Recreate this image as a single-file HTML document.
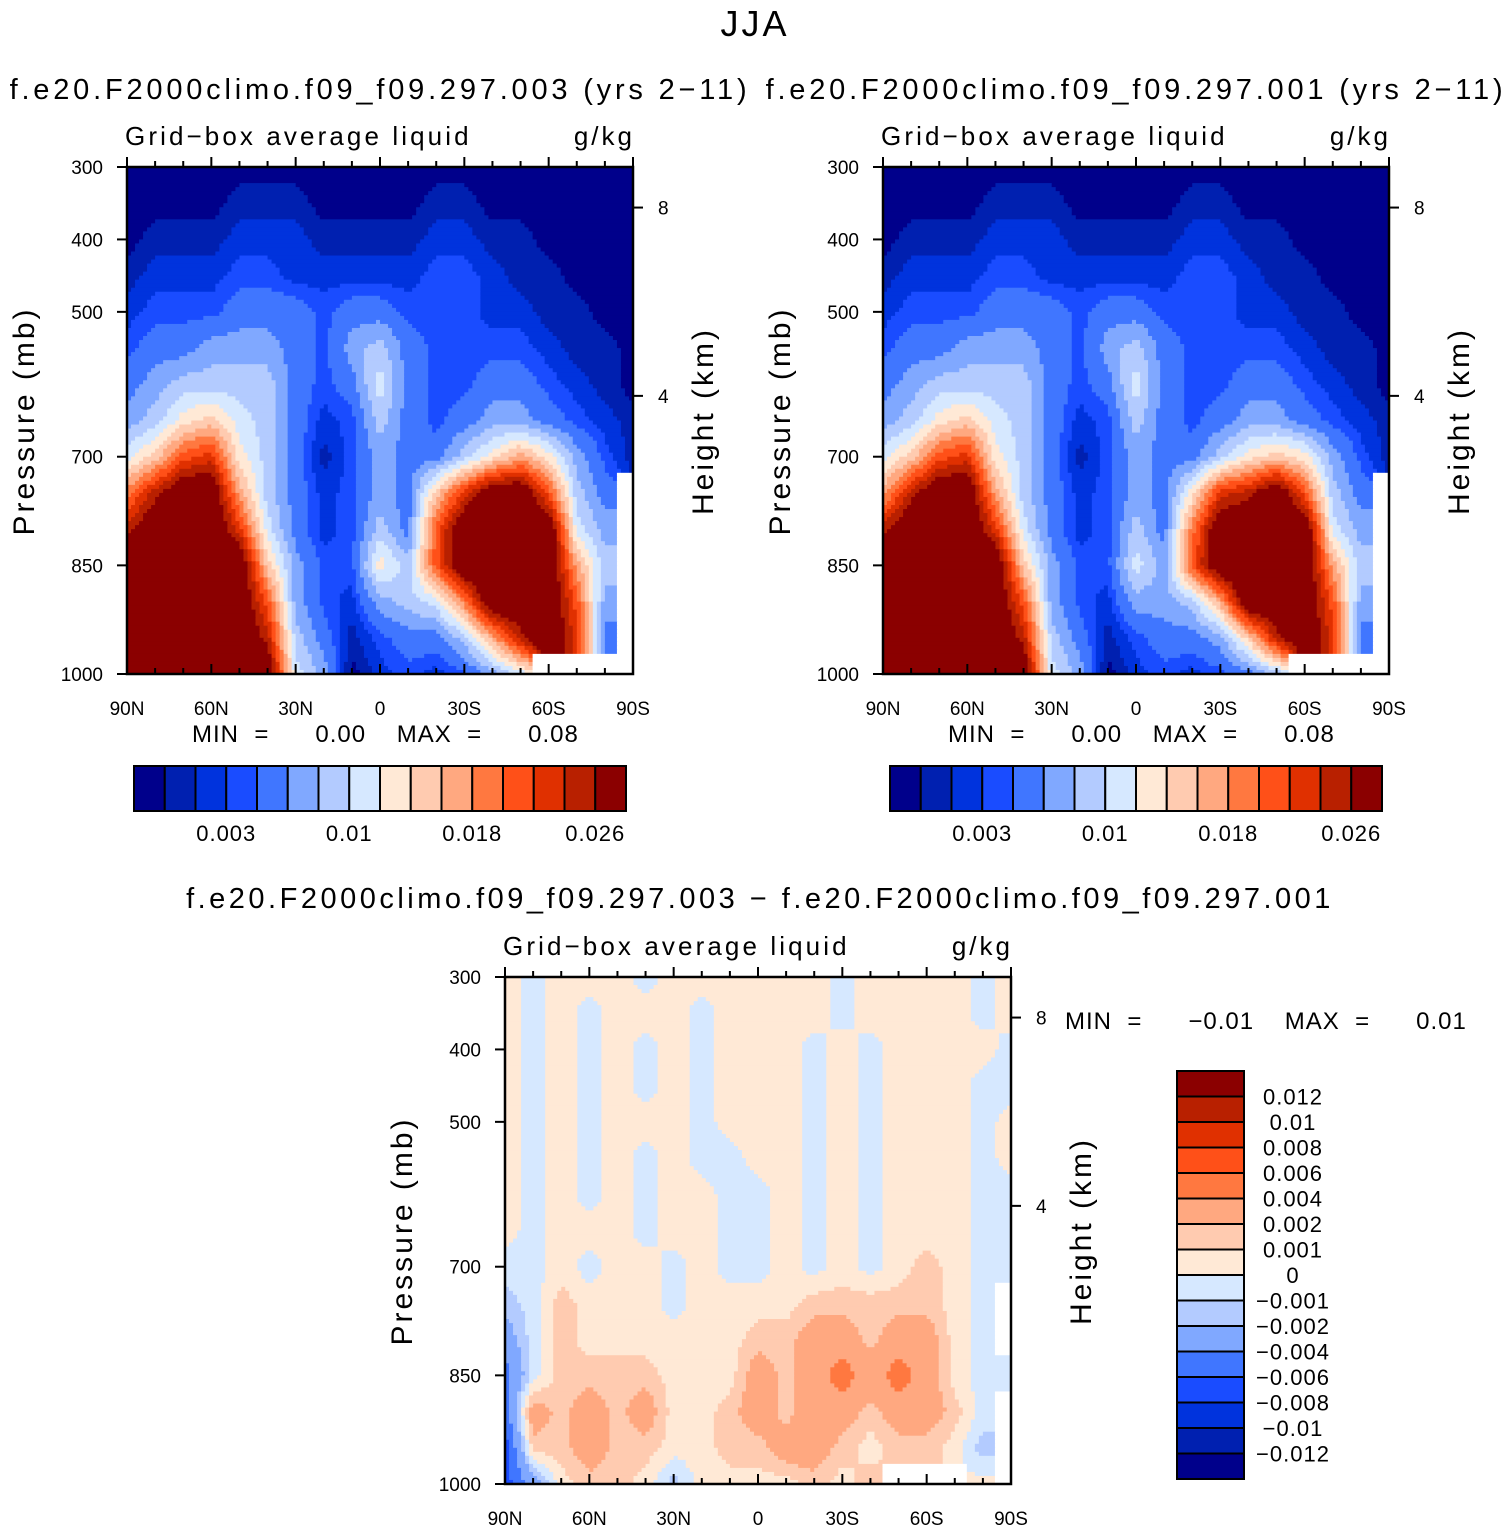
<!DOCTYPE html>
<html><head><meta charset="utf-8"><style>
html,body{margin:0;padding:0;background:#fff}
svg{display:block}
text{font-family:"Liberation Sans","DejaVu Sans",sans-serif;fill:#000}
</style></head><body>
<svg id="fig" width="1510" height="1531" viewBox="0 0 1510 1531" xmlns="http://www.w3.org/2000/svg">
<text x="755" y="36" font-size="36" text-anchor="middle" letter-spacing="3">JJA</text>
<text x="380" y="99" font-size="29" text-anchor="middle" letter-spacing="3.8">f.e20.F2000climo.f09_f09.297.003 (yrs 2−11)</text>
<text x="1136" y="99" font-size="29" text-anchor="middle" letter-spacing="3.8">f.e20.F2000climo.f09_f09.297.001 (yrs 2−11)</text>
<text x="760" y="908" font-size="29" text-anchor="middle" letter-spacing="3.5">f.e20.F2000climo.f09_f09.297.003 − f.e20.F2000climo.f09_f09.297.001</text>
<g id="panels"></g>
</svg>
<script>
// shared axis data
const lats = [90,80,70,60,50,40,30,20,10,0,-10,-20,-30,-40,-50,-60,-70,-80,-90];
const pressures = [300,350,400,450,500,550,600,650,700,750,800,850,900,950,1000];
const xTickLabels = ["90N","60N","30N","0","30S","60S","90S"];
const xTickLats = [90,60,30,0,-30,-60,-90];
const yTickValues = [300,400,500,700,850,1000];
const heightTicks = [8,4];
const heightTickPressures = [356,616];
const colors = ["#00008b","#0020b0","#0033dd","#1a4cff","#4076ff","#80a8ff","#b3cbff","#d6e8ff","#ffe9d6","#ffcbb0","#ffa880","#ff7840","#ff5018","#e03000","#b82000","#8b0000"];
// values in units of 1e-3 g/kg
const absLevels = [1,2,3,4,6,8,10,12,14,16,18,20,22,24,26];
const absLabelIdx = [2,6,10,14];
const absLabels = ["0.003","0.01","0.018","0.026"];
const diffLevels = [-12,-10,-8,-6,-4,-2,-1,0,1,2,4,6,8,10,12];
const diffLabels = ["0.012","0.01","0.008","0.006","0.004","0.002","0.001","0","−0.001","−0.002","−0.004","−0.006","−0.008","−0.01","−0.012"];

const field003 = [
[0.5,0.5,0.5,0.5,0.5,0.5,0.5,0.5,0.5,0.5,0.5,0.5,0.5,0.5,0.5,0.5,0.5,0.5,0.5],
[0.5,0.5,0.5,0.5,1.5,1.5,1.5,0.5,0.5,0.5,0.5,1.5,1.5,0.5,0.5,0.5,0.5,0.5,0.5],
[0.5,1.5,1.5,1.5,2.5,2.5,2.5,1.5,1.5,1.5,1.5,2.5,2.5,1.5,1.5,0.5,0.5,0.5,0.5],
[1.5,2.5,2.5,2.5,3.5,3.5,2.5,2.5,2.5,2.5,2.5,3.5,3.5,2.5,1.5,1.5,0.5,0.5,0.5],
[2.5,3.5,3.5,3.5,5,5,5,3.5,5,5,3.5,3.5,3.5,2.5,2.5,1.5,1.5,0.5,0.5],
[3.5,5,5,7,7,7,5,3.5,7,9,5,3.5,3.5,3.5,3.5,2.5,1.5,1.5,0.5],
[5,7,9,9,9,9,5,3.5,5,11,5,3.5,3.5,5,5,3.5,2.5,1.5,0.5],
[7,9,13,15,11,9,5,2.5,3.5,9,5,3.5,5,7,7,5,3.5,2.5,1.5],
[11,15,21,23,13,9,5,1.5,3.5,7,5,5,9,13,17,13,7,3.5,1.5],
[19,25,30,30,17,9,5,2.5,3.5,7,5,15,23,30,30,21,9,5,null],
[25,30,30,30,23,11,5,2.5,3.5,9,5,21,30,30,30,30,11,7,null],
[30,30,30,30,30,15,7,3.5,3.5,13,9,21,30,30,30,30,17,9,null],
[30,30,30,30,30,21,7,3.5,2.5,7,9,11,19,30,30,30,21,7,null],
[30,30,30,30,30,25,9,5,1.5,3.5,5,5,9,17,25,30,23,5,null],
[30,30,30,30,30,30,11,7,0.5,2.5,3.5,2.5,3.5,7,11,null,null,null,null]
];
const field001 = [
[0.5,0.5,0.5,0.5,0.5,0.5,0.5,0.5,0.5,0.5,0.5,0.5,0.5,0.5,0.5,0.5,0.5,0.5,0.5],
[0.5,0.5,0.5,0.5,1.5,1.5,1.5,0.5,0.5,0.5,0.5,1.5,1.5,0.5,0.5,0.5,0.5,0.5,0.5],
[0.5,1.5,1.5,1.5,2.5,2.5,2.5,1.5,1.5,1.5,1.5,2.5,2.5,1.5,1.5,0.5,0.5,0.5,0.5],
[1.5,2.5,2.5,2.5,3.5,3.5,2.5,2.5,2.5,2.5,2.5,3.5,3.5,2.5,1.5,1.5,0.5,0.5,0.5],
[2.5,3.5,3.5,3.5,5,5,5,3.5,5,5,3.5,3.5,3.5,2.5,2.5,1.5,1.5,0.5,0.5],
[3.5,5,5,7,7,7,5,3.5,7,9,5,3.5,3.5,3.5,3.5,2.5,1.5,1.5,0.5],
[5,7,9,9,9,9,5,3.5,5,11,5,3.5,3.5,5,5,3.5,2.5,1.5,0.5],
[7,9,13,15,11,9,5,2.5,3.5,9,5,3.5,5,7,7,5,3.5,2.5,1.5],
[11,15,21,23,13,9,5,1.5,3.5,7,5,5,9,13,15,13,7,3.5,1.5],
[17,25,30,30,17,9,5,2.5,3.5,7,5,13,23,25,30,21,9,5,null],
[25,30,30,30,23,11,5,2.5,3.5,9,5,19,30,30,30,30,11,7,null],
[30,30,30,30,30,15,7,3.5,3.5,11,7,21,30,30,30,30,17,9,null],
[30,30,30,30,30,21,7,3.5,2.5,7,7,9,17,30,30,30,21,7,null],
[30,30,30,30,30,25,9,5,1.5,3.5,5,5,7,15,25,30,23,5,null],
[30,30,30,30,30,30,11,7,0.5,2.5,3.5,2.5,3.5,5,9,null,null,null,null]
];
const fieldDiff = [
[0.5,-0.5,0.5,0.5,0.5,-0.5,0.5,0.5,0.5,0.5,0.5,0.5,-0.5,0.5,0.5,0.5,0.5,-0.5,0.5],
[0.5,-0.5,0.5,-0.5,0.5,0.5,0.5,-0.5,0.5,0.5,0.5,0.5,-0.5,0.5,0.5,0.5,0.5,-0.5,0.5],
[0.5,-0.5,0.5,-0.5,0.5,-0.5,0.5,-0.5,0.5,0.5,0.5,-0.5,0.5,-0.5,0.5,0.5,0.5,0.5,-0.5],
[0.5,-0.5,0.5,-0.5,0.5,-0.5,0.5,-0.5,0.5,0.5,0.5,-0.5,0.5,-0.5,0.5,0.5,0.5,-0.5,-0.5],
[0.5,-0.5,0.5,-0.5,0.5,0.5,0.5,-0.5,0.5,0.5,0.5,-0.5,0.5,-0.5,0.5,0.5,0.5,-0.5,0.5],
[0.5,-0.5,0.5,-0.5,0.5,-0.5,0.5,-0.5,-0.5,0.5,0.5,-0.5,0.5,-0.5,0.5,0.5,0.5,-0.5,0.5],
[0.5,-0.5,0.5,-0.5,0.5,-0.5,0.5,0.5,-0.5,-0.5,0.5,-0.5,0.5,-0.5,0.5,0.5,0.5,-0.5,-0.5],
[0.5,-0.5,0.5,0.5,0.5,-0.5,0.5,0.5,-0.5,-0.5,0.5,-0.5,0.5,-0.5,0.5,0.5,0.5,-0.5,-0.5],
[-0.5,-0.5,0.5,-0.5,0.5,0.5,-0.5,0.5,-0.5,-0.5,0.5,-0.5,0.5,-0.5,0.5,1.5,0.5,-0.5,-0.5],
[-1.5,-0.5,1.5,0.5,0.5,0.5,-0.5,0.5,0.5,0.5,0.5,1.5,1.5,1.5,1.5,1.5,0.5,-0.5,null],
[-3,-0.5,1.5,0.5,0.5,0.5,0.5,0.5,0.5,1.5,1.5,3,3,1.5,3,3,0.5,-0.5,null],
[-5,-0.5,1.5,1.5,1.5,1.5,0.5,0.5,0.5,3,1.5,3,5,3,5,3,0.5,-0.5,-0.5],
[-5,3,1.5,3,1.5,3,0.5,0.5,1.5,3,1.5,3,3,1.5,3,3,1.5,-0.5,null],
[-7,1.5,1.5,3,1.5,1.5,0.5,0.5,1.5,1.5,3,3,1.5,0.5,1.5,1.5,0.5,-1.5,null],
[-7,-3,0.5,1.5,1.5,0.5,-1.5,0.5,0.5,0.5,0.5,1.5,0.5,1.5,null,null,null,0.5,null]
];

const NS="http://www.w3.org/2000/svg";
const root=document.getElementById('panels');
function mk(tag,attrs,parent){const e=document.createElementNS(NS,tag);for(const k in attrs)e.setAttribute(k,attrs[k]);(parent||root).appendChild(e);return e;}
function txt(s,attrs,parent){const e=mk('text',attrs,parent);e.textContent=s;return e;}
function colorFor(v,levels){let i=0;while(i<levels.length&&v>=levels[i])i++;return colors[i];}

// bilinear sample of grid at fractional indices (fi = row, fj = col)
function sample(field,fi,fj){
  const R=field.length-1,C=field[0].length-1;
  fi=Math.max(0,Math.min(R,fi));fj=Math.max(0,Math.min(C,fj));
  const i0=Math.min(Math.floor(fi),R-1),j0=Math.min(Math.floor(fj),C-1);
  const a=fi-i0,b=fj-j0;
  const near=field[Math.round(fi)][Math.round(fj)];
  if(near===null)return null;
  const c=[[field[i0][j0],field[i0][j0+1]],[field[i0+1][j0],field[i0+1][j0+1]]];
  let s=0,w=0;
  const ws=[[(1-a)*(1-b),(1-a)*b],[a*(1-b),a*b]];
  for(let p=0;p<2;p++)for(let q=0;q<2;q++){if(c[p][q]!==null){s+=c[p][q]*ws[p][q];w+=ws[p][q];}}
  return w>0?s/w:null;
}

function panel(id,x0,y0,field,levels,minmaxPos,minTxt,maxTxt){
  const W=506,H=507;
  const g=mk('g',{});
  
  
  const xs=lat=>x0+(90-lat)/180*W;
  const ys=p=>y0+(p-300)/700*H;
  const cells=mk('g',{},g);
  
  
  const NX=126,NY=126;
  const cw=W/NX,ch=H/NY;
  for(let r=0;r<NY;r++){
    const fi=((r+0.5)/NY)*(pressures.length-1);
    let runStart=0,runColor=null;
    const flush=(end)=>{ if(runColor!==null){
      const e=mk('rect',{x:x0+runStart*cw,y:y0+r*ch,width:(end-runStart)*cw+0.5,height:ch+0.5,fill:runColor},cells);
      
      }};
    for(let c=0;c<=NX;c++){
      let col=null;
      if(c<NX){const fj=((c+0.5)/NX)*(lats.length-1);const v=sample(field,fi,fj);col=v===null?'#ffffff':colorFor(v,levels);}
      if(c===NX||col!==runColor){flush(c);runStart=c;runColor=col;}
    }
  }
  const fr=mk('rect',{x:x0,y:y0,width:W,height:H,fill:'none',stroke:'#000','stroke-width':2.5},g);
  
  
  for(let la=90;la>=-90;la-=10){
    const maj=la%30===0, L=maj?10:6;
    mk('line',{x1:xs(la),x2:xs(la),y1:y0+H,y2:y0+H-L,stroke:'#000','stroke-width':2},g);
    mk('line',{x1:xs(la),x2:xs(la),y1:y0,y2:y0-L,stroke:'#000','stroke-width':2},g);
  }
  xTickLats.forEach((la,k)=>{const t=txt(xTickLabels[k],{x:xs(la),y:y0+H+41,'font-size':19,'text-anchor':'middle'},g);
    });
  yTickValues.forEach(p=>{
    mk('line',{x1:x0,x2:x0-10,y1:ys(p),y2:ys(p),stroke:'#000','stroke-width':2},g);
    const t=txt(String(p),{x:x0-24,y:ys(p)+7,'font-size':19,'text-anchor':'end'},g);
    
  });
  heightTicks.forEach((h,k)=>{const y=ys(heightTickPressures[k]);
    mk('line',{x1:x0+W,x2:x0+W+10,y1:y,y2:y,stroke:'#000','stroke-width':2},g);
    const t=txt(String(h),{x:x0+W+25,y:y+7,'font-size':19},g);
    });
  let t=txt('Pressure (mb)',{x:0,y:0,'font-size':30,'text-anchor':'middle','letter-spacing':3,transform:`translate(${x0-93},${y0+254}) rotate(-90)`},g);
  
  t=txt('Height (km)',{x:0,y:0,'font-size':30,'text-anchor':'middle','letter-spacing':3,transform:`translate(${x0+W+80},${y0+254}) rotate(-90)`},g);
  
  t=txt('Grid−box average liquid',{x:x0-2,y:y0-22,'font-size':26,'letter-spacing':3.1},g);
  
  t=txt('g/kg',{x:x0+W+2,y:y0-22,'font-size':26,'text-anchor':'end','letter-spacing':3},g);
  
  t=txt('MIN  =      '+minTxt+'    MAX  =      '+maxTxt,{x:minmaxPos[0],y:minmaxPos[1],'font-size':24,'letter-spacing':1},g);
  t.style.whiteSpace='pre';
  
}
panel('left-panel',127,167,field003,absLevels,[192,742],'0.00','0.08');
panel('right-panel',883,167,field001,absLevels,[948,742],'0.00','0.08');
panel('diff-panel',505,977,fieldDiff,diffLevels,[1065,1029],'−0.01','0.01');

function hbar(id,x0,y0){
  const g=mk('g',{});
  
  
  const w=492/16;
  colors.forEach((c,i)=>{const r=mk('rect',{x:x0+i*w,y:y0,width:w,height:45,fill:c,stroke:'#000','stroke-width':2},g);
    });
  absLabelIdx.forEach((k,n)=>{const t=txt(absLabels[n],{x:x0+(k+1)*w,y:y0+75,'font-size':22,'text-anchor':'middle','letter-spacing':1},g);
    });
}
hbar('left-colorbar',134,766);
hbar('right-colorbar',890,766);
(function(){
  const g=mk('g',{});
  
  
  const x0=1177,y0=1071,h=408/16;
  for(let i=0;i<16;i++){const r=mk('rect',{x:x0,y:y0+i*h,width:67,height:h,fill:colors[15-i],stroke:'#000','stroke-width':2},g);
    }
  diffLabels.forEach((s,i)=>{const t=txt(s,{x:1293,y:y0+(i+1)*h+8,'font-size':22,'text-anchor':'middle','letter-spacing':1},g);
    });
})();
</script>
</body></html>
